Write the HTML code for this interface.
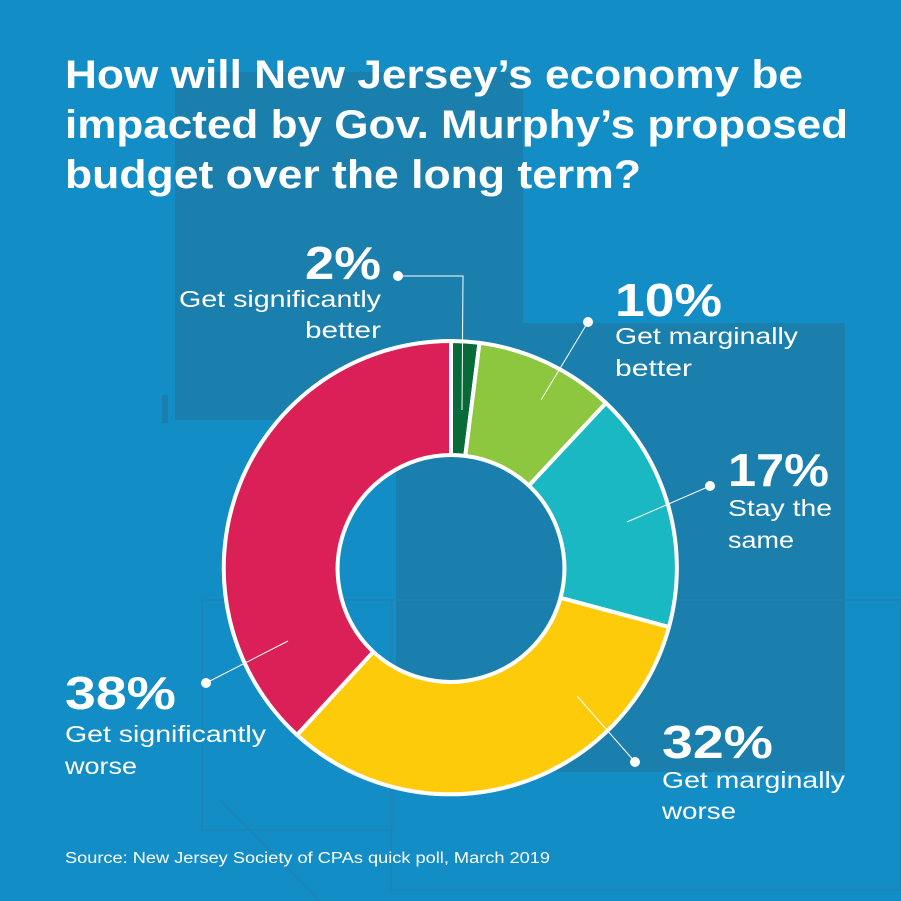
<!DOCTYPE html>
<html><head><meta charset="utf-8"><style>
html,body{margin:0;padding:0;background:#138dc6;}
svg{display:block}
</style></head><body>
<svg width="901" height="901" viewBox="0 0 901 901" xmlns="http://www.w3.org/2000/svg" font-family="Liberation Sans, sans-serif">
<rect width="901" height="901" fill="#138dc6"/>
<rect x="175" y="72" width="348" height="348" fill="#1b7fad"/>
<rect x="396" y="323" width="449" height="449" fill="#1b7fad"/>
<rect x="162" y="395" width="6" height="28" fill="#1b7fad"/>
<rect x="202" y="600" width="190" height="230" fill="none" stroke="#1d84b6" stroke-width="1.5"/>
<rect x="391" y="600" width="510" height="290" fill="none" stroke="#1d84b6" stroke-width="1.5"/>
<line x1="220" y1="800" x2="320" y2="901" stroke="#1d84b6" stroke-width="1.5"/>
<g fill="#ffffff" font-weight="bold">
<text x="65" y="88" font-size="40" textLength="738" lengthAdjust="spacingAndGlyphs">How will New Jersey’s economy be</text>
<text x="65" y="138" font-size="40" textLength="783" lengthAdjust="spacingAndGlyphs">impacted by Gov. Murphy’s proposed</text>
<text x="65" y="188" font-size="40" textLength="576" lengthAdjust="spacingAndGlyphs">budget over the long term?</text>
</g>
<g stroke="#ffffff" stroke-width="4" stroke-linejoin="round">
<path d="M451,341 A227,227 0 0 1 479.5,342.8 L465.3,455.9 A114,114 0 0 0 451,455 Z" fill="#076a38"/>
<path d="M479.5,342.8 A227,227 0 0 1 606,403 L528.9,485.6 A114,114 0 0 0 465.3,455.9 Z" fill="#8dc63f"/>
<path d="M606,403 A227,227 0 0 1 669,627 L560.5,597.8 A114,114 0 0 0 528.9,485.6 Z" fill="#1ab8c2"/>
<path d="M669,627 A227,227 0 0 1 297,735 L373.3,651.8 A114,114 0 0 0 560.5,597.8 Z" fill="#fecb0a"/>
<path d="M297,735 A227,227 0 0 1 451,341 L451,455 A114,114 0 0 0 373.3,651.8 Z" fill="#db2057"/>
</g>
<g stroke="#ffffff" stroke-width="1" fill="none">
<polyline points="398,276 463,276 462,410"/>
<line x1="588" y1="322" x2="541" y2="400"/>
<line x1="710" y1="486" x2="627" y2="522"/>
<line x1="635" y1="762" x2="577" y2="696"/>
<line x1="206" y1="683" x2="288" y2="641"/>
</g>
<g fill="#ffffff">
<circle cx="398" cy="276" r="5"/>
<circle cx="588" cy="322" r="5"/>
<circle cx="710" cy="486" r="5"/>
<circle cx="635" cy="762" r="5"/>
<circle cx="206" cy="683" r="5"/>
</g>
<g fill="#ffffff" lengthAdjust="spacingAndGlyphs">
<text x="305" y="279" font-size="46" font-weight="bold" textLength="76" lengthAdjust="spacingAndGlyphs">2%</text>
<text x="179" y="307" font-size="23" textLength="202" lengthAdjust="spacingAndGlyphs">Get significantly</text>
<text x="305" y="338" font-size="23" textLength="76" lengthAdjust="spacingAndGlyphs">better</text>
<text x="615" y="316" font-size="46" font-weight="bold" textLength="107" lengthAdjust="spacingAndGlyphs">10%</text>
<text x="615" y="344" font-size="23" textLength="183" lengthAdjust="spacingAndGlyphs">Get marginally</text>
<text x="615" y="376" font-size="23" textLength="77" lengthAdjust="spacingAndGlyphs">better</text>
<text x="728" y="486" font-size="46" font-weight="bold" textLength="101" lengthAdjust="spacingAndGlyphs">17%</text>
<text x="728" y="516" font-size="23" textLength="104" lengthAdjust="spacingAndGlyphs">Stay the</text>
<text x="728" y="548" font-size="23" textLength="66" lengthAdjust="spacingAndGlyphs">same</text>
<text x="662" y="758" font-size="46" font-weight="bold" textLength="111" lengthAdjust="spacingAndGlyphs">32%</text>
<text x="662" y="788" font-size="23" textLength="183" lengthAdjust="spacingAndGlyphs">Get marginally</text>
<text x="662" y="819" font-size="23" textLength="74" lengthAdjust="spacingAndGlyphs">worse</text>
<text x="65" y="709" font-size="46" font-weight="bold" textLength="111" lengthAdjust="spacingAndGlyphs">38%</text>
<text x="65" y="742" font-size="23" textLength="201" lengthAdjust="spacingAndGlyphs">Get significantly</text>
<text x="65" y="774" font-size="23" textLength="72" lengthAdjust="spacingAndGlyphs">worse</text>
<text x="65" y="863" font-size="15.5" textLength="485" lengthAdjust="spacingAndGlyphs">Source: New Jersey Society of CPAs quick poll, March 2019</text>
</g>
</svg>
</body></html>
